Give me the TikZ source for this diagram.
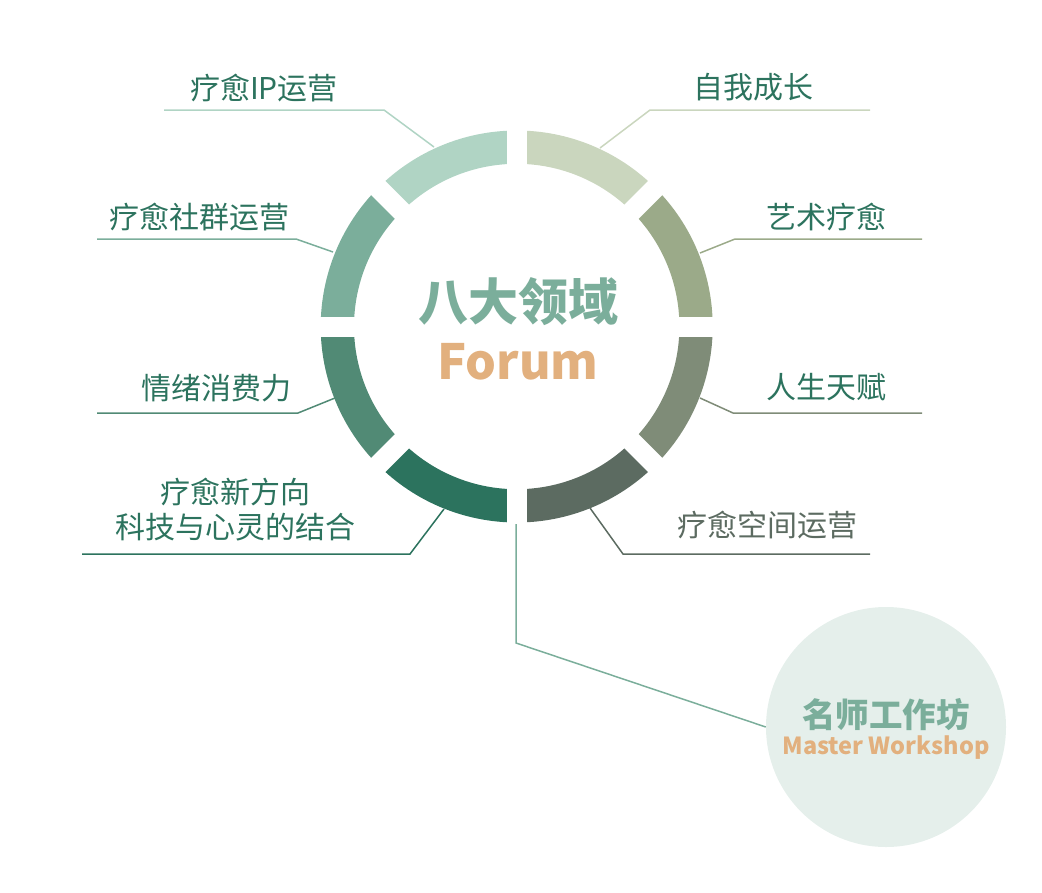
\documentclass[tikz,border=0pt]{standalone}
\usepackage{fontspec}
\setmainfont{Noto Sans CJK SC}
\usetikzlibrary{calc}
\definecolor{cA}{HTML}{CAD6BE}
\definecolor{cB}{HTML}{9BAA89}
\definecolor{cC}{HTML}{7F8C78}
\definecolor{cD}{HTML}{5C6B61}
\definecolor{cE}{HTML}{2C735E}
\definecolor{cF}{HTML}{518A75}
\definecolor{cG}{HTML}{7BAE9B}
\definecolor{cH}{HTML}{B0D4C4}
\definecolor{labgreen}{HTML}{2C735E}
\definecolor{labgray}{HTML}{5C6B61}
\definecolor{orangeT}{HTML}{E2B07E}
\definecolor{circfill}{HTML}{E5EFEB}
\newcommand\ringseg[3]{\fill[#3] ($(O)+(#1:196)$) arc[start angle=#1,end angle=#2,radius=196] -- ($(O)+(#2:162.7)$) arc[start angle=#2,end angle=#1,radius=162.7] -- cycle;}
\tikzset{
  lab/.style={text=labgreen, font=\fontsize{30}{34}\selectfont, inner sep=0pt},
  leader/.style={line width=1.5pt},
}
\begin{document}
\begin{tikzpicture}[x=1pt,y=-1pt]
\useasboundingbox (0,0) rectangle (1042,892);
\coordinate (O) at (516.7,326.5);
\ringseg{-90}{-45}{cA}
\ringseg{-45}{0}{cB}
\ringseg{0}{45}{cC}
\ringseg{45}{90}{cD}
\ringseg{90}{135}{cE}
\ringseg{135}{180}{cF}
\ringseg{180}{225}{cG}
\ringseg{225}{270}{cH}
\foreach \a in {0,45,90,135}
  \draw[white, line width=20pt] ($(O)+(\a+180:198)$) -- ($(O)+(\a:198)$);

% center title
\node[font=\bfseries\fontsize{50}{56}\selectfont, text=cG, inner sep=0pt] (title) at (518,302) {八大领域};
\node[font=\bfseries\fontsize{48.5}{56}\selectfont, text=orangeT, inner sep=0pt] (forum) at (518,362) {Forum};

% labels
\node[lab] (ip) at (264,88) {疗愈IP运营};
\node[lab] (sq) at (199.5,217) {疗愈社群运营};
\node[lab] (qx) at (216,388) {情绪消费力};
\node[lab, align=center, font=\fontsize{30}{35}\selectfont] (xfx) at (235,510) {疗愈新方向\\科技与心灵的结合};
\node[lab] (zw) at (753,87) {自我成长};
\node[lab] (ys) at (826,217) {艺术疗愈};
\node[lab] (rs) at (826,387) {人生天赋};
\node[lab, text=labgray] (kj) at (767,525) {疗愈空间运营};

% leaders
\coordinate (ipA) at (434,147); \coordinate (ipB) at (384,110); \coordinate (ipC) at (164,110);
\draw[leader, cH] (ipA) -- (ipB) -- (ipC);
\coordinate (sqA) at (333,252); \coordinate (sqB) at (296,239); \coordinate (sqC) at (97,239);
\draw[leader, cG] (sqA) -- (sqB) -- (sqC);
\coordinate (qxA) at (335,398); \coordinate (qxB) at (298,413); \coordinate (qxC) at (97,413);
\draw[leader, cF] (qxA) -- (qxB) -- (qxC);
\coordinate (xfA) at (444,509); \coordinate (xfB) at (410,554); \coordinate (xfC) at (82,554);
\draw[leader, cE] (xfA) -- (xfB) -- (xfC);
\coordinate (zwA) at (600,148); \coordinate (zwB) at (650,110); \coordinate (zwC) at (870,110);
\draw[leader, cA] (zwA) -- (zwB) -- (zwC);
\coordinate (ysA) at (700,253); \coordinate (ysB) at (735,239); \coordinate (ysC) at (922,239);
\draw[leader, cB] (ysA) -- (ysB) -- (ysC);
\coordinate (rsA) at (700,398); \coordinate (rsB) at (733,413); \coordinate (rsC) at (922,413);
\draw[leader, cC] (rsA) -- (rsB) -- (rsC);
\coordinate (kjA) at (590,508); \coordinate (kjB) at (623,554); \coordinate (kjC) at (870,554);
\draw[leader, cD] (kjA) -- (kjB) -- (kjC);

% master workshop
\node[circle, fill=circfill, minimum size=240pt, inner sep=0pt] (mw) at (886,727) {};
\node[font=\bfseries\fontsize{33.5}{38}\selectfont, text=cG, inner sep=0pt] (mwcn) at (886,715) {名师工作坊};
\node[font=\bfseries\fontsize{23.5}{28}\selectfont, text=orangeT, inner sep=0pt] (mwen) at (886,748) {Master Workshop};
\coordinate (mwA) at (516,524); \coordinate (mwB) at (516,643);
\draw[leader, cG] (mwA) -- (mwB) -- (mw.west);
\end{tikzpicture}
\end{document}
